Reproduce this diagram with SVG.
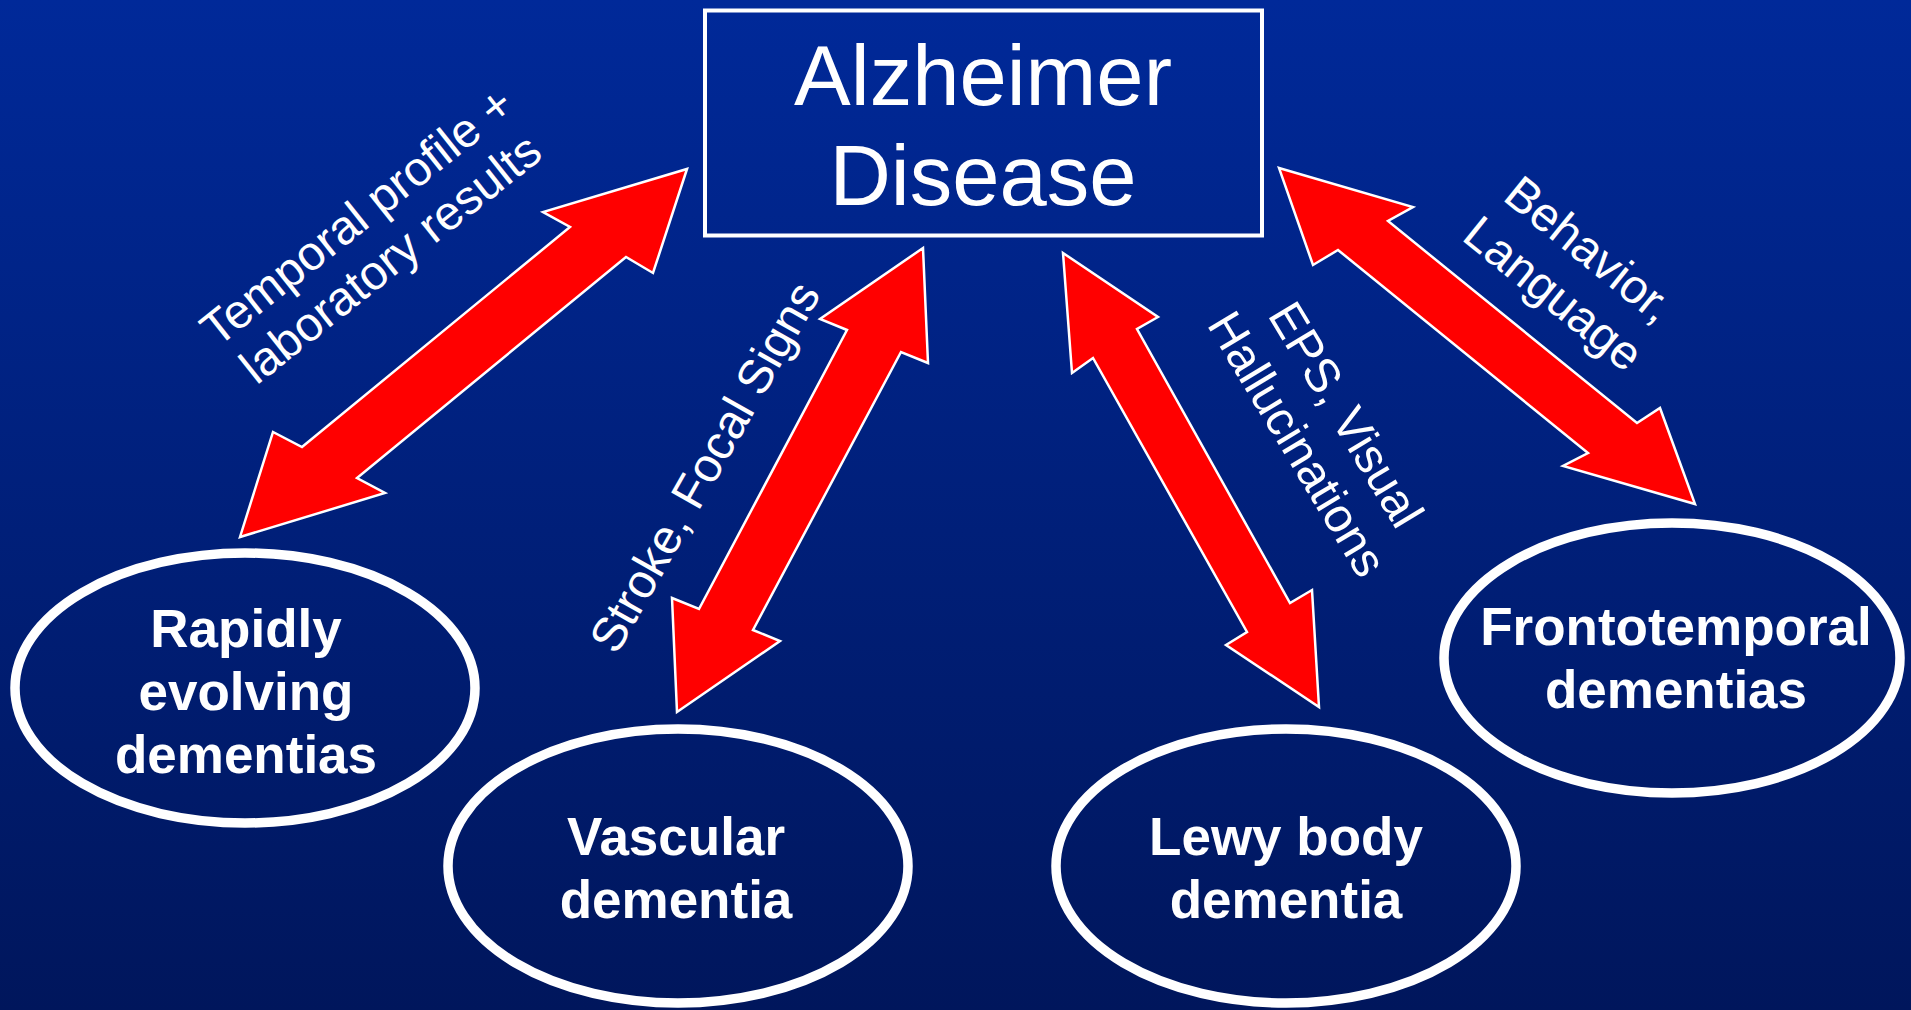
<svg xmlns="http://www.w3.org/2000/svg" width="1911" height="1010" viewBox="0 0 1911 1010">
  <defs>
    <linearGradient id="bg" x1="0" y1="0" x2="0" y2="1">
      <stop offset="0" stop-color="#002999"/>
      <stop offset="1" stop-color="#00165C"/>
    </linearGradient>
  </defs>
  <style>
    .box { fill: none; stroke: #FFFFFF; stroke-width: 4; }
    .oval { fill: none; stroke: #FFFFFF; stroke-width: 9.5; }
    .arrow { fill: #FF0000; stroke: #FFFFFF; stroke-width: 2.5; stroke-linejoin: miter; }
    .title { font-family: "Liberation Sans", Arial, sans-serif; font-size: 85px; fill: #FFFFFF; text-anchor: middle; }
    .node { font-family: "Liberation Sans", Arial, sans-serif; font-size: 53px; font-weight: bold; fill: #FFFFFF; text-anchor: middle; }
    .lbl { font-family: "Liberation Sans", Arial, sans-serif; font-size: 48px; fill: #FFFFFF; text-anchor: middle; }
  </style>
  <rect x="0" y="0" width="1911" height="1010" fill="url(#bg)"/>

  <g id="connectors">
    <polygon class="arrow" points="687,169 653,273 626,257 357,478 385,493 240,537 273,432 302,447 570,227 543,212"/>
    <polygon class="arrow" points="923,248 928,363 901,352 753,630 780,641 677,712 672,598 699,609 847,330 820,319"/>
    <polygon class="arrow" points="1063,253 1158,317 1137,329 1290,603 1312,590 1319,707 1226,645 1247,632 1093,358 1072,373"/>
    <polygon class="arrow" points="1279,168 1413,207 1388,221 1637,423 1660,408 1695,504 1563,466 1588,453 1338,250 1313,265"/>
    <g id="label-temporal" transform="translate(367,229) rotate(-38.5)">
      <text class="lbl" x="0" y="0">Temporal profile +</text>
      <text class="lbl" x="0" y="54">laboratory results</text>
    </g>
    <g id="label-stroke" transform="translate(719,475) rotate(-60.5)">
      <text class="lbl" x="0" y="0">Stroke, Focal Signs</text>
    </g>
    <g id="label-eps" transform="translate(1332,423) rotate(59)">
      <text class="lbl" x="0" y="0">EPS, Visual</text>
      <text class="lbl" x="0" y="57">Hallucinations</text>
    </g>
    <g id="label-behavior" transform="translate(1579,262) rotate(39)">
      <text class="lbl" x="0" y="0">Behavior,</text>
      <text class="lbl" x="0" y="57">Language</text>
    </g>
  </g>

  <g id="alzheimer">
    <rect class="box" x="705" y="10.5" width="557" height="225"/>
    <text class="title" x="983" y="105">Alzheimer</text>
    <text class="title" x="983" y="205">Disease</text>
  </g>

  <g id="rapidly">
    <ellipse class="oval" cx="245" cy="688" rx="230" ry="135"/>
    <text class="node" x="246" y="647">Rapidly</text>
    <text class="node" x="246" y="710">evolving</text>
    <text class="node" x="246" y="773">dementias</text>
  </g>

  <g id="vascular">
    <ellipse class="oval" cx="678" cy="866" rx="230" ry="137"/>
    <text class="node" x="676" y="855">Vascular</text>
    <text class="node" x="676" y="918">dementia</text>
  </g>

  <g id="lewy">
    <ellipse class="oval" cx="1286" cy="866" rx="230" ry="137"/>
    <text class="node" x="1286" y="855">Lewy body</text>
    <text class="node" x="1286" y="918">dementia</text>
  </g>

  <g id="frontotemporal">
    <ellipse class="oval" cx="1672" cy="658" rx="228" ry="135"/>
    <text class="node" x="1676" y="645">Frontotemporal</text>
    <text class="node" x="1676" y="708">dementias</text>
  </g>
</svg>
